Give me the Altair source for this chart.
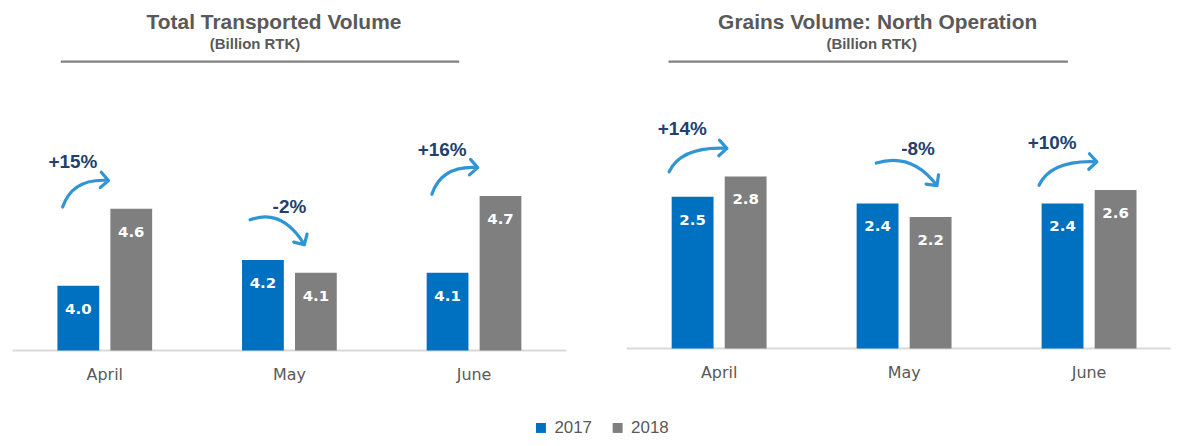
import math
import altair as alt
import pandas as pd

# ---------------- data ----------------
months = ["April", "May", "June"]
years = ["2017", "2018"]

total_2017 = [4.0, 4.2, 4.1]
total_2018 = [4.6, 4.1, 4.7]
total_pct = ["+15%", "-2%", "+16%"]

grains_2017 = [2.5, 2.4, 2.4]
grains_2018 = [2.8, 2.2, 2.6]
grains_pct = ["+14%", "-8%", "+10%"]

titles = ["Total Transported Volume", "Grains Volume: North Operation"]
subtitle = "(Billion RTK)"

BLUE = "#0070c0"
GRAY = "#7f7f7f"
TXT = "#595959"
ARROW = "#2f95d5"
PCT = "#223f6e"


def long_df(v17, v18):
    rows = []
    for m, a, b in zip(months, v17, v18):
        rows.append({"month": m, "year": years[0], "value": a})
        rows.append({"month": m, "year": years[1], "value": b})
    return pd.DataFrame(rows)


def ann_df(v17, v18, pct):
    return pd.DataFrame({
        "month": months,
        "pct": pct,
        "top": [max(a, b) for a, b in zip(v17, v18)],
        "dir": ["down" if p.startswith("-") else "up" for p in pct],
    })


def arrow_path(w, h, up, arm=11.0, unit=40.0):
    if up:
        E = (w, -h)
        C = (0.21 * w, -1.09 * h)
    else:
        E = (w, h)
        C = (0.59 * w, -0.48 * h)
    S = (0.0, 0.0)
    mx, my = w / 2, E[1] / 2
    dx, dy = E[0] - C[0], E[1] - C[1]
    n = math.hypot(dx, dy)
    bx, by = -dx / n, -dy / n
    c = s = math.sqrt(0.5)
    A1 = (E[0] + arm * (bx * c - by * s), E[1] + arm * (bx * s + by * c))
    A2 = (E[0] + arm * (bx * c + by * s), E[1] + arm * (-bx * s + by * c))

    def f(p):
        return f"{(p[0] - mx) / unit:.3f} {(p[1] - my) / unit:.3f}"

    return f"M {f(S)} Q {f(C)} {f(E)} M {f(A1)} L {f(E)} L {f(A2)}"


def panel(v17, v18, pct, title, W, H, ydom, st):
    bars_df = long_df(v17, v18)
    ann = ann_df(v17, v18, pct)
    one = pd.DataFrame({"t": [title], "s": [subtitle]})

    x = alt.X(
        "month:N", sort=months, scale=alt.Scale(domain=months, **st["band"]),
        axis=alt.Axis(title=None, domain=False, ticks=False, tickSize=0, grid=False,
                      labelAngle=0, labelFont="DejaVu Sans", labelFontSize=16,
                      labelColor=TXT, labelPadding=16),
    )
    yscale = alt.Scale(domain=ydom, zero=False, nice=False)
    color = alt.Color(
        "year:N",
        scale=alt.Scale(domain=years, range=[BLUE, GRAY]),
        legend=alt.Legend(orient="none", legendX=522, legendY=412, direction="horizontal",
                          title=None, symbolType="square", symbolSize=100,
                          symbolStrokeWidth=0, labelFont="Liberation Sans",
                          labelFontSize=17, labelColor=TXT, labelOffset=5,
                          columnPadding=17, padding=0),
    )
    xoff = alt.XOffset("year:N", sort=years,
                       scale=alt.Scale(paddingInner=0.211, paddingOuter=0))

    bars = alt.Chart(bars_df).mark_bar().encode(
        x=x, xOffset=xoff,
        y=alt.Y("value:Q", scale=yscale, axis=None),
        y2=alt.datum(ydom[0]),
        color=color,
    )
    labels = alt.Chart(bars_df).mark_text(
        font="DejaVu Sans", fontWeight="bold", fontSize=15, color="white",
        baseline="middle", align="center", dy=23,
    ).encode(
        x=x, xOffset=xoff,
        y=alt.Y("value:Q", scale=yscale, axis=None),
        text=alt.Text("value:Q", format=".1f"),
    )
    baseline = alt.Chart(one).mark_rule(color="#d9d9d9", strokeWidth=2).encode(
        x=alt.value(0), x2=alt.value(W), y=alt.value(H))

    layers = [baseline, bars, labels]
    for d in ["up", "down"]:
        w, h = st[d + "_wh"]
        ax, ay = st[d + "_arrow"]
        lx, ly = st[d + "_label"]
        sub = alt.Chart(ann).transform_filter(alt.datum.dir == d)
        layers.append(sub.mark_point(
            shape=arrow_path(w, h, d == "up"), size=6400, filled=False,
            strokeWidth=3.2, color=ARROW, opacity=1, strokeCap="round", strokeJoin="round",
            xOffset=ax, yOffset=ay,
        ).encode(x=x, y=alt.Y("top:Q", scale=yscale, axis=None)))
        layers.append(sub.mark_text(
            font="Liberation Sans", fontWeight="bold", fontSize=19, color=PCT,
            align="center", baseline="middle", dx=lx, dy=ly,
        ).encode(x=x, y=alt.Y("top:Q", scale=yscale, axis=None), text="pct:N"))

    t1 = alt.Chart(one).mark_text(
        font="Liberation Sans", fontWeight="bold", fontSize=21, color=TXT,
        align="center", baseline="alphabetic",
    ).encode(x=alt.value(st["title_x"]), y=alt.value(20), text="t:N")
    t2 = alt.Chart(one).mark_text(
        font="Liberation Sans", fontWeight="bold", fontSize=15, color=TXT,
        align="center", baseline="alphabetic",
    ).encode(x=alt.value(st["sub_x"]), y=alt.value(40.5), text="s:N")
    rule = alt.Chart(one).mark_rule(color="#808080", strokeWidth=2.5).encode(
        x=alt.value(st["rule_x"][0]), x2=alt.value(st["rule_x"][1]), y=alt.value(53))
    layers += [t1, t2, rule]
    return alt.layer(*layers).properties(width=W, height=H)


left_style = dict(
    band=dict(paddingInner=0.487, paddingOuter=0.2435),
    title_x=262.5, sub_x=243.5, rule_x=(48.5, 448.5),
    up_wh=(46, 26.7), down_wh=(54.5, 25),
    up_arrow=(-19.3, -15), down_arrow=(-12.2, -27.8),
    up_label=(-32, -46.5), down_label=(0, -53),
)
right_style = dict(
    band=dict(paddingInner=0.487, paddingOuter=0.2137, align=0.57),
    title_x=252, sub_x=246, rule_x=(42, 443),
    up_wh=(58, 23.5), down_wh=(61, 22.7),
    up_arrow=(-21.2, -16.5), down_arrow=(2.5, -29.3),
    up_label=(-37, -47.5), down_label=(13.9, -55),
)

left = panel(total_2017, total_2018, total_pct, titles[0], 556, 343,
             [3.494, 6.159], left_style)
right = panel(grains_2017, grains_2018, grains_pct, titles[1], 546, 341,
              [0.2565, 5.2786], right_style)

chart = (
    alt.hconcat(left, right, spacing=58.5)
    .resolve_scale(color="shared", x="independent", y="independent", xOffset="independent")
    .properties(padding={"left": 3.5, "top": 0, "right": 0, "bottom": 0})
    .configure_view(stroke=None)
)

chart.save("out.html", embed_options={"renderer": "svg", "actions": False})
